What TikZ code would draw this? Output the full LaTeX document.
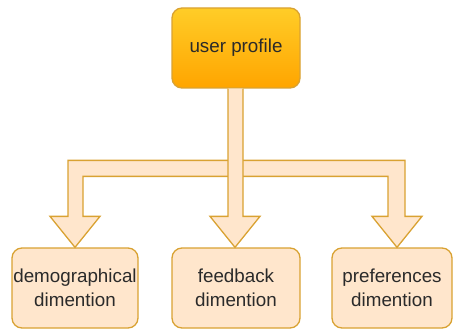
\documentclass[tikz,border=0pt]{standalone}
\usepackage{fontspec}
\setmainfont{Liberation Sans}
\usetikzlibrary{calc}
\definecolor{strk}{HTML}{D9A232}
\definecolor{boxfill}{HTML}{FFE6CC}
\definecolor{topc}{HTML}{FFCD28}
\definecolor{botc}{HTML}{FFA500}
\definecolor{txt}{HTML}{2A2A2A}
\tikzset{
  dimbox/.style={draw=strk, line width=1.3pt, fill=boxfill, rounded corners=10pt,
    minimum height=80pt, inner sep=0pt, align=center, text=txt,
    font=\fontsize{18.8}{24}\selectfont},
  topbox/.style={draw=strk, line width=1.3pt, top color=topc, bottom color=botc,
    rounded corners=10pt, minimum width=128pt, minimum height=80pt, inner sep=0pt,
    align=center, text=txt, font=\fontsize{18.8}{24}\selectfont},
  bigarrow/.style={draw=strk, line width=1.3pt, fill=boxfill, line join=miter}
}
\begin{document}
\begin{tikzpicture}[x=1pt,y=-1pt]
\useasboundingbox (0,0) rectangle (453,329);
\node[topbox] (up) at (236,48) {user profile};
\node[dimbox, minimum width=126pt] (demo) at (75,288) {demographical\\dimention};
\node[dimbox, minimum width=128pt] (fb) at (236,288) {feedback\\dimention};
\node[dimbox, minimum width=120pt] (pref) at (392,288) {preferences\\dimention};
% split arrow (left and right branches)
\coordinate (tl) at ($(demo.north)$);
\coordinate (tr) at ($(pref.north)+(5,0)$);
\draw[bigarrow] ($(tl)+(-7,-87)$) -- ($(tl)+(-7,-31)$) -- ($(tl)+(-25,-31)$) -- (tl)
  -- ($(tl)+(25,-31)$) -- ($(tl)+(8,-31)$) -- ($(tl)+(8,-71)$)
  -- ($(tr)+(-9,-71)$) -- ($(tr)+(-9,-31)$) -- ($(tr)+(-25,-31)$) -- (tr)
  -- ($(tr)+(25,-31)$) -- ($(tr)+(8,-31)$) -- ($(tr)+(8,-87)$) -- cycle;
% straight middle arrow
\coordinate (tm) at ($(fb.north)+(-1,0)$);
\draw[bigarrow] ($(up.south)+(-8,0)$) -- ($(tm)+(-7,-31)$) -- ($(tm)+(-25,-31)$) -- (tm)
  -- ($(tm)+(25,-31)$) -- ($(tm)+(8,-31)$) -- ($(up.south)+(7,0)$);
\end{tikzpicture}
\end{document}
